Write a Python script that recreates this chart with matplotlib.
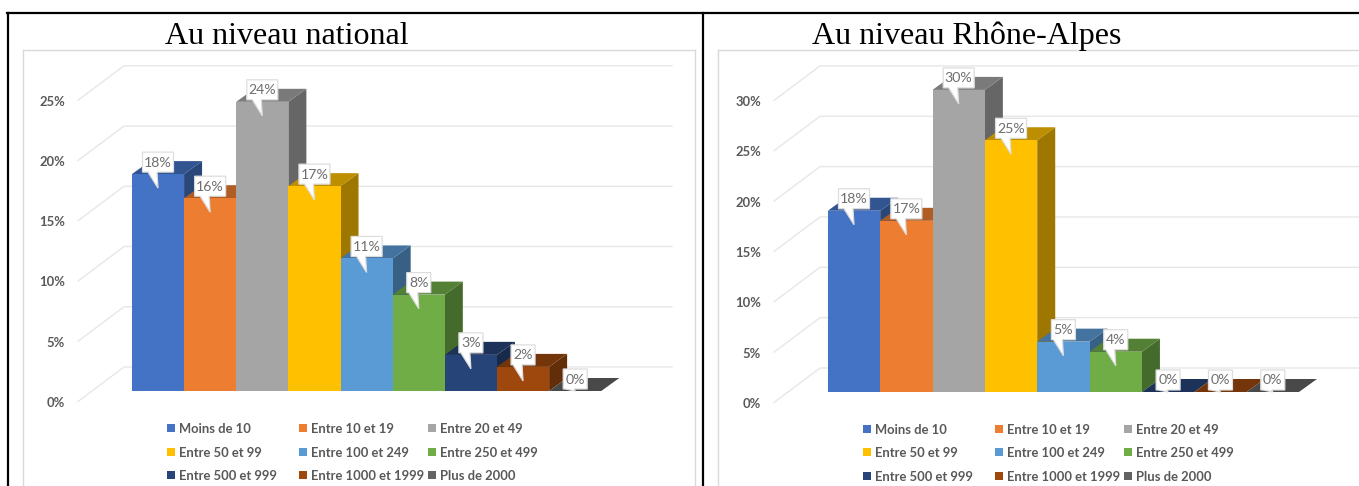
import matplotlib
matplotlib.use("Agg")
import matplotlib.pyplot as plt
from matplotlib.patches import Polygon, Rectangle

W, H = 1359, 486

categories = ["Moins de 10", "Entre 10 et 19", "Entre 20 et 49",
              "Entre 50 et 99", "Entre 100 et 249", "Entre 250 et 499",
              "Entre 500 et 999", "Entre 1000 et 1999", "Plus de 2000"]
national = [18, 16, 24, 17, 11, 8, 3, 2, 0]
rhone_alpes = [18, 17, 30, 25, 5, 4, 0, 0, 0]
ticks_national = [0, 5, 10, 15, 20, 25]
ticks_rhone = [0, 5, 10, 15, 20, 25, 30]

colors = ["#4472C4", "#ED7D31", "#A5A5A5", "#FFC000", "#5B9BD5",
          "#70AD47", "#264478", "#9E480E", "#636363"]
text_gray = "#595959"


def darker(color, k):
    r, g, b = matplotlib.colors.to_rgb(color)
    return (r * k, g * k, b * k)


fig = plt.figure(figsize=(W / 100, H / 100), dpi=100)

# overlay in pixel coordinates for the table lines, titles and legends
page = fig.add_axes([0, 0, 1, 1], zorder=3)
page.set_xlim(0, W)
page.set_ylim(H, 0)
page.axis("off")
page.patch.set_alpha(0)

page.plot([7, W], [13, 13], color="black", lw=1.6)
page.plot([8, 8], [13, H], color="black", lw=1.6)
page.plot([703, 703], [13, H], color="black", lw=1.6)


def draw_chart(values, ticks, box, x0, y0, px_cat, px_pct, wall_end):
    # box = left, top, right, bottom in pixels, x0/y0 = pixel of first bar centre and baseline
    left, top, right, bottom = box
    ax = fig.add_axes([left / W, 1 - bottom / H, (right - left) / W, (bottom - top) / H])
    ax.set_xlim((left - x0) / px_cat, (right - x0) / px_cat)
    ax.set_ylim((y0 - bottom) / px_pct, (y0 - top) / px_pct)
    ax.set_xticks([])
    ax.set_yticks([])
    for s in ax.spines.values():
        s.set_color("#D9D9D9")
        s.set_linewidth(1.0)
    ax.spines["bottom"].set_visible(False)
    if right >= W:
        ax.spines["right"].set_visible(False)

    # depth of the bars and of the floor, converted to data units
    dx = 18 / px_cat
    dy = 13 / px_pct
    wall_dy = 24 / px_pct
    front_dy = -10.5 / px_pct
    wall_x0 = -34 / px_cat
    front_x0 = -80 / px_cat
    end_x = (wall_end - x0) / px_cat

    for t in ticks:
        ax.plot([front_x0, wall_x0, end_x],
                [t + front_dy, t + wall_dy, t + wall_dy],
                color="#E7E7E7", lw=1.0, zorder=1)
        ax.text(front_x0 - 13 / px_cat, t + front_dy - 1.5 / px_pct, "%d%%" % t, ha="right",
                va="center", fontsize=9.4, fontweight="bold", color=text_gray,
                family="Lato", zorder=2)

    # bars go left to right so that each front covers the side of the previous one
    z = 3
    for i, (v, c) in enumerate(zip(values, colors)):
        a, b = i - 0.5, i + 0.5
        ax.add_patch(Polygon([(b, 0), (b + dx, dy), (b + dx, v + dy), (b, v)],
                             fc=darker(c, 0.62), ec="none", zorder=z))
        ax.add_patch(Polygon([(a, v), (a + dx, v + dy), (b + dx, v + dy), (b, v)],
                             fc=darker(c, 0.74), ec="none", zorder=z))
        ax.bar(i, v, width=1.0, color=c, zorder=z + 0.5)
        z += 1

    # data labels with their little tail
    for i, v in enumerate(values):
        w = 31 if v >= 10 else 24
        bw = w / 2 / px_cat
        y_low = v + 2 / px_pct
        y_high = v + 22 / px_pct
        tip = max(v - 14 / px_pct, 0)
        ax.add_patch(Polygon([(i - bw, y_low), (i - bw, y_high), (i + bw, y_high),
                              (i + bw, y_low), (i - 1 / px_cat, y_low), (i, tip),
                              (i - 10 / px_cat, y_low)],
                             fc="white", ec="#DDDDDD", lw=0.9, zorder=30))
        ax.text(i, (y_low + y_high) / 2 - 0.5 / px_pct, "%d%%" % v, ha="center", va="center",
                fontsize=10.2, color="#6E6E6E", family="Lato", zorder=31)
    return ax


draw_chart(national, ticks_national, (22.5, 50, 694.5, H + 5), 158, 391, 52.15, 12.05, 672)
draw_chart(rhone_alpes, ticks_rhone, (717.5, 50, W + 5, H + 5), 854, 392, 52.35, 10.07, W + 5)

page.text(286.5, 36.5, "Au niveau national", ha="center", va="center",
          fontsize=23, family="Liberation Serif", color="black")
page.text(967, 36.5, "Au niveau Rhône-Alpes", ha="center", va="center",
          fontsize=23, family="Liberation Serif", color="black")


def draw_legend(xs, ys):
    for i, (name, c) in enumerate(zip(categories, colors)):
        x = xs[i % 3]
        y = ys[i // 3]
        page.add_patch(Rectangle((x, y - 4), 8, 8, fc=c, ec="none"))
        page.text(x + 12, y + 1, name, ha="left", va="center", fontsize=9.4,
                  fontweight="bold", color=text_gray, family="Lato")


draw_legend([167, 299, 428], [428, 452, 475])
draw_legend([863, 995, 1124], [429, 452, 476])

fig.savefig("out.png", dpi=100)
